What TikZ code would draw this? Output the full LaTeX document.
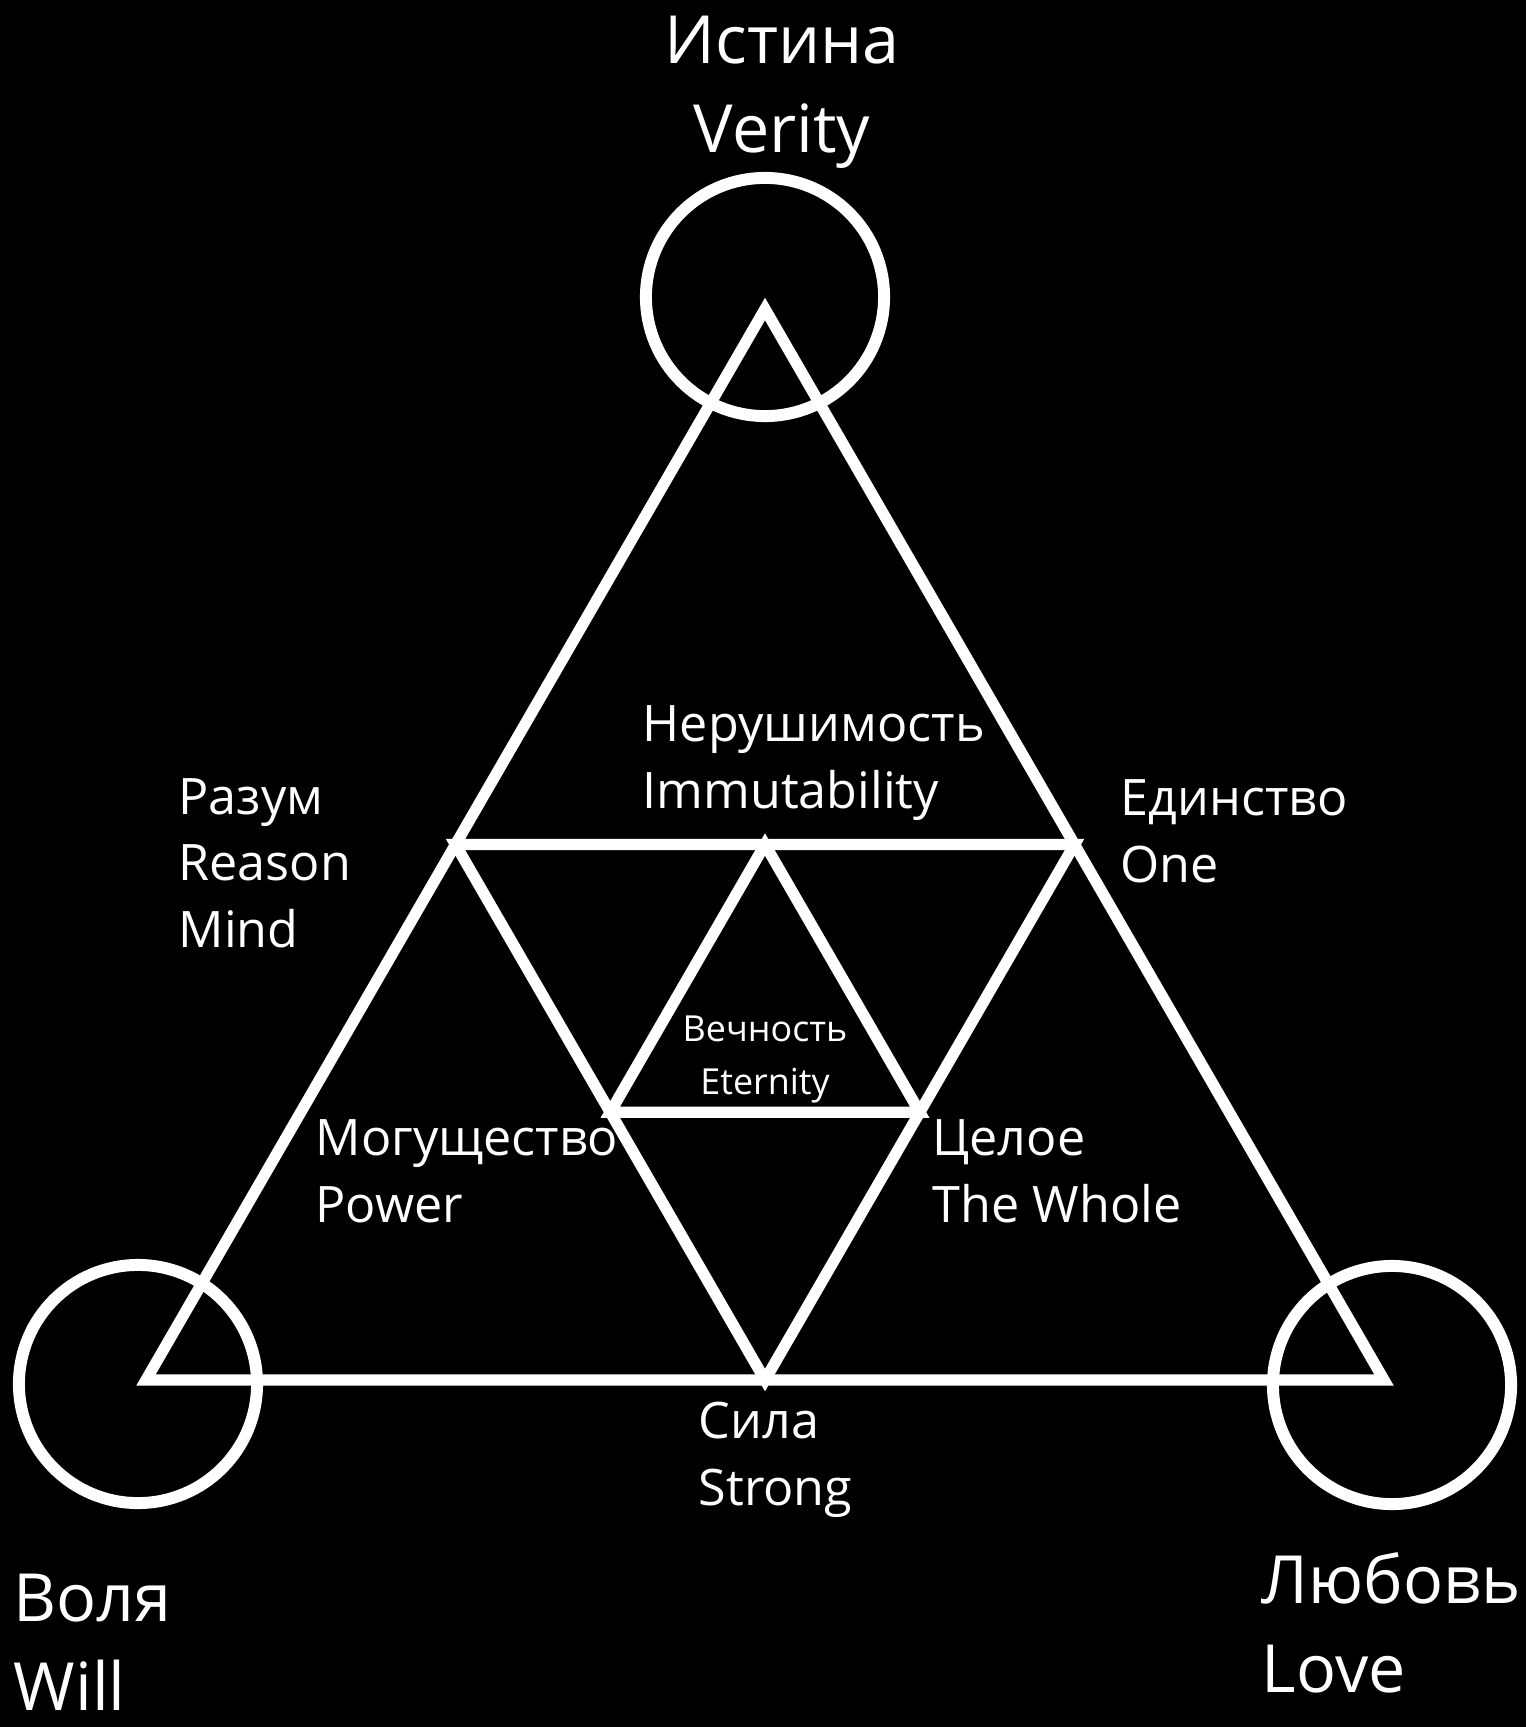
\documentclass[tikz,border=0pt]{standalone}
\usepackage{fontspec}
\setmainfont{Open Sans}
\usetikzlibrary{calc}

\begin{document}
\begin{tikzpicture}[
    x=0.01cm, y=-0.01cm,
    figline/.style={draw=white, line width=3.2pt, line join=miter},
    ring/.style={draw=white, line width=3.4pt},
    biglabel/.style={text=white, inner sep=0pt, align=left, font=\fontsize{18.9}{25.3}\selectfont},
    midlabel/.style={text=white, inner sep=0pt, align=left, font=\fontsize{14.3}{18.8}\selectfont},
    smalllabel/.style={text=white, inner sep=0pt, align=center, font=\fontsize{10.2}{15}\selectfont}
  ]
    % Background
    \fill[black] (0,0) rectangle (1526,1727);
    \useasboundingbox (0,0) rectangle (1526,1727);

    % Outer triangle
    \coordinate (top) at (765,309);
    \coordinate (left) at (146,1380);
    \coordinate (right) at (1384,1380);

    % Midpoints
    \coordinate (midL) at ($(top)!0.5!(left)$);
    \coordinate (midR) at ($(top)!0.5!(right)$);
    \coordinate (midB) at ($(left)!0.5!(right)$);

    % Inner triangle
    \coordinate (inTop) at ($(midL)!0.5!(midR)$);
    \coordinate (inL) at ($(midL)!0.5!(midB)$);
    \coordinate (inR) at ($(midR)!0.5!(midB)$);

    \draw[figline] (top) -- (left) -- (right) -- cycle;
    \draw[figline] (midL) -- (midR) -- (midB) -- cycle;
    \draw[figline] (inTop) -- (inL) -- (inR) -- cycle;

    % Circles
    \draw[ring] (765,297) circle [radius=1.19cm];
    \draw[ring] (138,1384) circle [radius=1.19cm];
    \draw[ring] (1392,1385) circle [radius=1.19cm];

    % Labels (anchored on the last line)
    \node[biglabel, align=center, anchor=base] (verity) at (782,152) {Истина\\Verity};
    \node[biglabel, anchor=base west] (will) at (13,1710) {Воля\\Will};
    \node[biglabel, anchor=base west] (love) at (1261,1692) {Любовь\\Love};

    \node[midlabel, anchor=base west] (immut) at (642,808) {Нерушимость\\Immutability};
    \node[midlabel, anchor=base west] (reason) at (178,947) {Разум\\Reason\\Mind};
    \node[midlabel, anchor=base west] (one) at (1120,882) {Единство\\One};
    \node[midlabel, anchor=base west] (power) at (315,1222) {Могущество\\Power};
    \node[midlabel, anchor=base west] (whole) at (932,1222) {Целое\\The Whole};
    \node[midlabel, anchor=base west] (strong) at (698,1505) {Сила\\Strong};

    \node[smalllabel, anchor=base] (eternity) at (765,1094) {Вечность\\Eternity};
\end{tikzpicture}
\end{document}
